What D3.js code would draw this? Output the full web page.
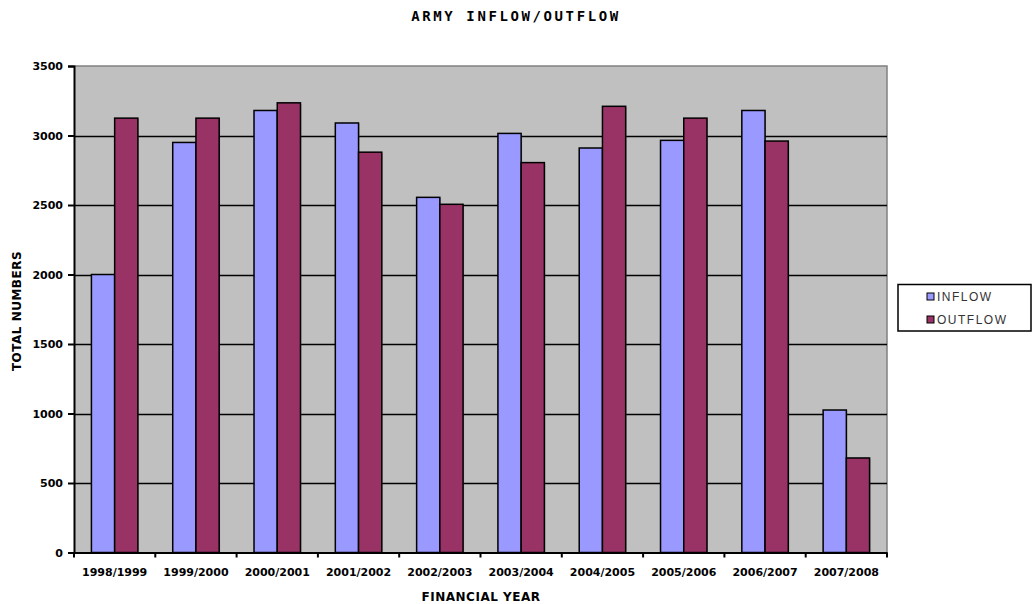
<!DOCTYPE html>
<html><head><meta charset="utf-8">
<script src="https://cdn.jsdelivr.net/npm/d3@7"></script>
<style>
body{margin:0;background:#fff;}
svg{display:block;font-family:"Liberation Sans",Arial,sans-serif;}
</style></head>
<body>
<svg id="chart" width="1033" height="604"></svg>
<script>
const categories = ["1998/1999","1999/2000","2000/2001","2001/2002","2002/2003","2003/2004","2004/2005","2005/2006","2006/2007","2007/2008"];
const inflow  = [2000, 2950, 3180, 3090, 2555, 3015, 2910, 2965, 3180, 1025];
const outflow = [3125, 3125, 3235, 2880, 2505, 2805, 3210, 3125, 2960, 680];
const seriesNames = ["INFLOW","OUTFLOW"];
const seriesColors = ["#9999ff","#993366"];
const yTicks = [0,500,1000,1500,2000,2500,3000,3500];

const svg = d3.select("#chart");
const L = 74, R = 887, T = 66, B = 552.5;

const x = d3.scaleBand().domain(categories).range([L, R]).paddingInner(0).paddingOuter(0);
const bw = x.bandwidth()/3.5;
const xs = d3.scaleBand().domain(seriesNames).range([0, 2*bw]);
const y = d3.scaleLinear().domain([0,3500]).range([B, T]);

// plot background
svg.append("rect").attr("x",L).attr("y",T).attr("width",R-L).attr("height",B-T)
  .attr("fill","#c0c0c0");
// top/right border gray
svg.append("path").attr("d",`M${L},${T}H${R}V${B}`).attr("fill","none").attr("stroke","#808080").attr("stroke-width",1.5);

// gridlines
svg.append("g").selectAll("line").data(yTicks.filter(d=>d>0 && d<3500)).join("line")
  .attr("x1",L).attr("x2",R).attr("y1",d=>Math.round(y(d))+0.5).attr("y2",d=>Math.round(y(d))+0.5)
  .attr("stroke","#000").attr("stroke-width",1.5);

// bars
const data = categories.map((c,i)=>({c, vals:[inflow[i], outflow[i]]}));
const groups = svg.append("g").selectAll("g").data(data).join("g")
  .attr("transform",d=>`translate(${x(d.c)+x.bandwidth()/2 - bw},0)`);
groups.selectAll("rect.sh").data(d=>d.vals.map((v,j)=>({v,j}))).join("rect")
  .attr("class","sh")
  .attr("x",d=>xs(seriesNames[d.j])+1).attr("y",d=>y(d.v)+1)
  .attr("width",bw).attr("height",d=>B-y(d.v)-1)
  .attr("fill","#555").attr("opacity",0.35);
groups.selectAll("rect.bar").data(d=>d.vals.map((v,j)=>({v,j}))).join("rect")
  .attr("class","bar")
  .attr("x",d=>xs(seriesNames[d.j])).attr("y",d=>y(d.v))
  .attr("width",bw).attr("height",d=>B-y(d.v))
  .attr("fill",d=>seriesColors[d.j]).attr("stroke","#000").attr("stroke-width",1.5);

// y axis
const yAxis = d3.axisLeft(y).tickValues(yTicks).tickSize(6).tickPadding(5).tickFormat(d3.format("d"));
const gy = svg.append("g").attr("transform",`translate(${L},0)`).call(yAxis);
gy.select(".domain").attr("stroke","#000").attr("stroke-width",2);
gy.selectAll(".tick line").attr("stroke","#000").attr("stroke-width",2);
gy.selectAll("text").attr("font-size",11).attr("font-weight","bold").attr("fill","#000")
  .attr("font-family","'DejaVu Sans', sans-serif");

// x axis
const xAxis = d3.axisBottom(x).tickSize(0).tickPadding(16);
const gx = svg.append("g").attr("transform",`translate(0,${B})`).call(xAxis);
gx.select(".domain").attr("stroke","#000").attr("stroke-width",2);
gx.selectAll("text").attr("font-size",11).attr("font-weight","bold").attr("fill","#000")
  .attr("font-family","'DejaVu Sans', sans-serif");
// boundary ticks
svg.append("g").selectAll("line").data(categories.concat(["end"])).join("line")
  .attr("x1",(d,i)=> i<categories.length ? x(d) : R)
  .attr("x2",(d,i)=> i<categories.length ? x(d) : R)
  .attr("y1",B).attr("y2",B+5).attr("stroke","#000").attr("stroke-width",2);

// titles
svg.append("text").attr("x",516).attr("y",21).attr("text-anchor","middle")
  .attr("font-size",14).attr("font-weight","bold").attr("letter-spacing",2.6)
  .attr("font-family","'DejaVu Sans Mono', monospace").text("ARMY INFLOW/OUTFLOW");
svg.append("text").attr("x",481).attr("y",601).attr("text-anchor","middle")
  .attr("font-size",12).attr("font-weight","bold").attr("letter-spacing",0.5)
  .attr("font-family","'DejaVu Sans', sans-serif").text("FINANCIAL YEAR");
svg.append("text").attr("transform","translate(21,311) rotate(-90)").attr("text-anchor","middle")
  .attr("font-size",12).attr("font-weight","bold").attr("letter-spacing",0.5)
  .attr("font-family","'DejaVu Sans', sans-serif").text("TOTAL NUMBERS");

// legend
const lg = svg.append("g");
lg.append("rect").attr("x",898).attr("y",284.5).attr("width",133).attr("height",46.5)
  .attr("fill","#fff").attr("stroke","#000").attr("stroke-width",1.5);
const li = lg.selectAll("g").data(seriesNames).join("g")
  .attr("transform",(d,i)=>`translate(927,${293+i*23})`);
li.append("rect").attr("width",7).attr("height",7).attr("fill",(d,i)=>seriesColors[i])
  .attr("stroke","#000").attr("stroke-width",1);
li.append("text").attr("x",10).attr("y",7.5).attr("font-size",12).attr("fill","#333")
  .attr("letter-spacing",1.5).text(d=>d);
</script>
</body></html>
